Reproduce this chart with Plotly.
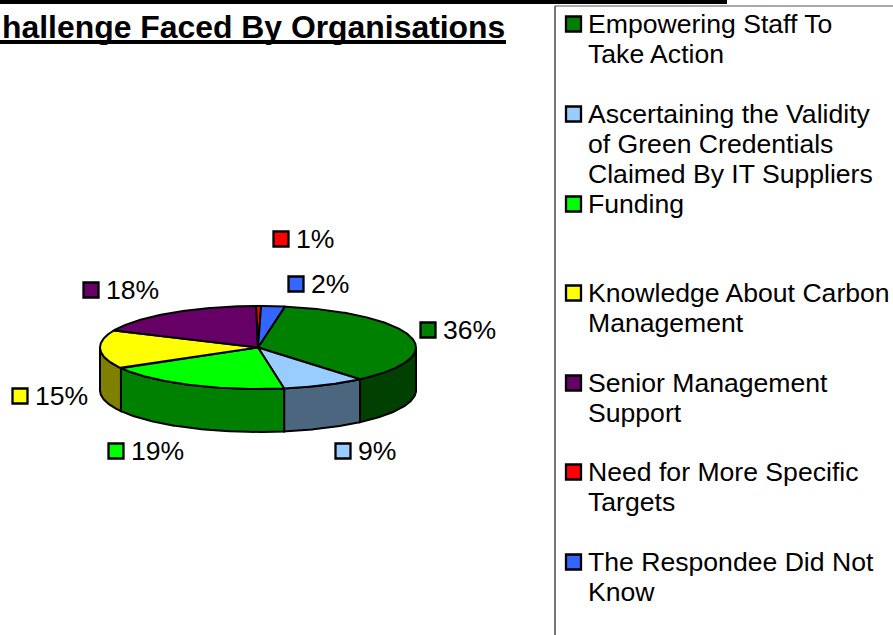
import math
import plotly.graph_objects as go

# ---------- data ----------
categories = [
    "Empowering Staff To<br>Take Action",
    "Ascertaining the Validity<br>of Green Credentials<br>Claimed By IT Suppliers",
    "Funding",
    "Knowledge About Carbon<br>Management",
    "Senior Management<br>Support",
    "Need for More Specific<br>Targets",
    "The Respondee Did Not<br>Know",
]
values = [36.0, 8.5, 19.3, 15.0, 18.0, 0.5, 2.4]
pct_labels = ["36%", "9%", "19%", "15%", "18%", "1%", "2%"]
title_text = "hallenge Faced By Organisations"

# ---------- styles / layout (page pixels) ----------
colors = ["#008000", "#99CCFF", "#00FF00", "#FFFF00", "#660066", "#FF0000", "#3366FF"]
side_colors = ["#004000", "#4D6680", "#008000", "#808000", "#330033", "#800000", "#1A3380"]
W, H = 893, 635
CX, CY, RX, RY, DEPTH = 258, 347.5, 158, 41.5, 43
START = 9.8
FONT = "Liberation Sans, Arial, sans-serif"
SIZE = 26.6
label_swatches = [(428, 330), (343, 451), (116, 451), (20, 396), (91, 290), (281, 239), (296, 284)]
legend_swatch_y = [24, 114, 204, 293, 383, 472, 562]
LEG_SWATCH_X, LEG_TEXT_X, LINE_H = 573.5, 586, 30


def pt(deg, dy=0.0):
    a = math.radians(deg)
    return CX + RX * math.sin(a), CY - RY * math.cos(a) + dy


def arc(a1, a2, dy=0.0):
    n = max(2, int(abs(a2 - a1) * 2))
    return [pt(a1 + (a2 - a1) * i / n, dy) for i in range(n + 1)]


def poly(points, fill, name):
    xs = [p[0] for p in points] + [points[0][0]]
    ys = [p[1] for p in points] + [points[0][1]]
    return go.Scatter(x=xs, y=ys, mode="lines", fill="toself", fillcolor=fill,
                      line=dict(color="black", width=2), hoverinfo="skip", name=name,
                      showlegend=False)


fig = go.Figure()
total = sum(values)
angles = [START]
for v in values:
    angles.append(angles[-1] + v / total * 360)

# side walls (only the front half of the disc shows)
for i in range(len(values)):
    a1, a2 = max(angles[i], 90), min(angles[i + 1], 270)
    if a2 > a1:
        fig.add_trace(poly(arc(a1, a2) + arc(a2, a1, DEPTH), side_colors[i], "side"))
# top face wedges
for i in range(len(values)):
    fig.add_trace(poly([(CX, CY)] + arc(angles[i], angles[i + 1]), colors[i], "top"))

# data-label swatches + legend swatches
fig.add_trace(go.Scatter(
    x=[p[0] for p in label_swatches] + [LEG_SWATCH_X] * len(colors),
    y=[p[1] for p in label_swatches] + legend_swatch_y,
    mode="markers",
    marker=dict(symbol="square", size=15, color=colors + colors, line=dict(color="black", width=2.3)),
    hoverinfo="skip", showlegend=False))

ann = []
for (x, y), t in zip(label_swatches, pct_labels):
    ann.append(dict(x=x + 13, y=y, text=t, xanchor="left", yanchor="middle", showarrow=False,
                    font=dict(family=FONT, size=SIZE, color="black")))
for y0, cat in zip(legend_swatch_y, categories):
    for j, line in enumerate(cat.split("<br>")):
        ann.append(dict(x=LEG_TEXT_X, y=y0 + j * LINE_H, text=line, xanchor="left", yanchor="middle",
                        showarrow=False, font=dict(family=FONT, size=SIZE, color="black")))
ann.append(dict(x=506.5, y=27, text="<b>" + title_text + "</b>", xanchor="right", yanchor="middle",
                showarrow=False, font=dict(family=FONT, size=31.9, color="black")))
shapes = [
    dict(type="rect", x0=0, x1=727, y0=0, y1=4, fillcolor="black", line_width=0),
    dict(type="line", x0=0, x1=506, y0=42, y1=42, line=dict(color="black", width=4)),
    dict(type="line", x0=555, x1=555, y0=6, y1=H, line=dict(color="#777777", width=2)),
    dict(type="line", x0=555, x1=W, y0=6, y1=6, line=dict(color="#555555", width=1)),
]

fig.update_layout(
    width=W, height=H, margin=dict(l=0, r=0, t=0, b=0), paper_bgcolor="white", plot_bgcolor="white",
    xaxis=dict(range=[0, W], visible=False, fixedrange=True),
    yaxis=dict(range=[H, 0], visible=False, fixedrange=True),
    annotations=ann, shapes=shapes, showlegend=False,
)
fig.write_html("out.html", config={"displayModeBar": False},
               post_script="document.body.style.margin='0';")
